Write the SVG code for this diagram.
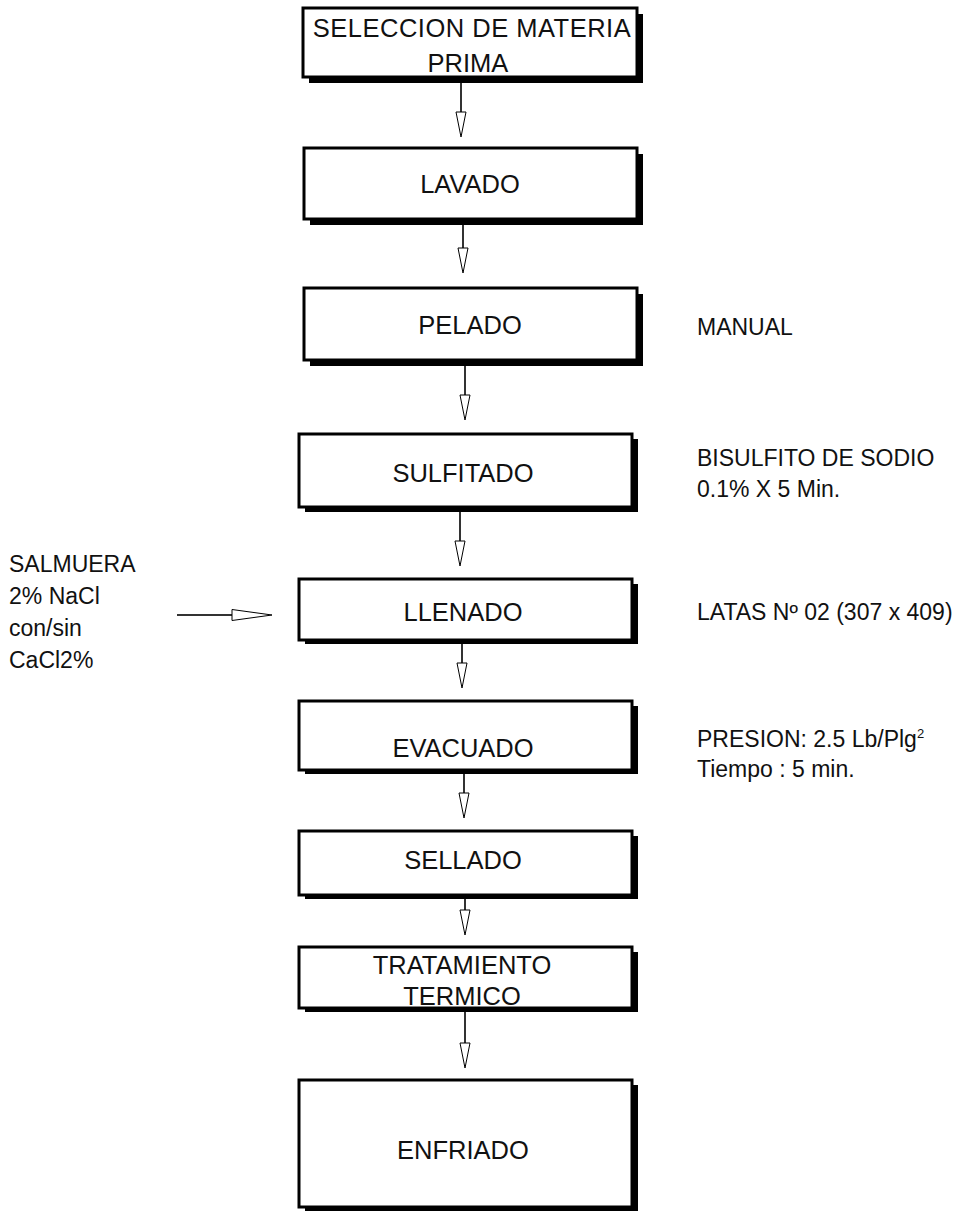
<svg xmlns="http://www.w3.org/2000/svg" width="977" height="1211" viewBox="0 0 977 1211">
<style>
.sh{fill:#000}
.bx{fill:#fff;stroke:#000;stroke-width:3}
.t{font-family:"Liberation Sans",Arial,sans-serif;font-size:25.5px;fill:#111;text-anchor:middle}
.s{font-family:"Liberation Sans",Arial,sans-serif;font-size:23px;fill:#111}
.ln{stroke:#333;stroke-width:2;fill:none}
.hd{fill:#fff;stroke:#000;stroke-width:1}
</style>
<rect width="977" height="1211" fill="#fff"/>
<g id="connectors">
<line class="ln" x1="461" y1="77" x2="461" y2="112"/><polygon class="hd" points="456,112 466,112 461,137"/>
<line class="ln" x1="463" y1="219" x2="463" y2="248"/><polygon class="hd" points="458,248 468,248 463,273"/>
<line class="ln" x1="465" y1="360" x2="465" y2="395"/><polygon class="hd" points="460,395 470,395 465,420"/>
<line class="ln" x1="460" y1="507" x2="460" y2="541"/><polygon class="hd" points="455,541 465,541 460,566"/>
<line class="ln" x1="462" y1="640" x2="462" y2="663"/><polygon class="hd" points="457,663 467,663 462,688"/>
<line class="ln" x1="464" y1="770" x2="464" y2="793"/><polygon class="hd" points="459,793 469,793 464,818"/>
<line class="ln" x1="465" y1="895" x2="465" y2="910"/><polygon class="hd" points="460,910 470,910 465,935"/>
<line class="ln" x1="465" y1="1008" x2="465" y2="1043"/><polygon class="hd" points="460,1043 470,1043 465,1068"/>
<line class="ln" x1="177" y1="615" x2="232" y2="615"/><polygon class="hd" points="232,609.5 232,620.5 272,615"/>
</g>
<g id="n1"><rect class="sh" x="309" y="14" width="334" height="69"/><rect class="bx" x="303" y="8" width="334" height="69"/>
<text class="t" x="472" y="37" letter-spacing="0.5">SELECCION DE MATERIA</text><text class="t" x="468" y="72">PRIMA</text></g>
<g id="n2"><rect class="sh" x="310" y="154" width="333" height="71"/><rect class="bx" x="304" y="148" width="333" height="71"/>
<text class="t" x="470" y="193">LAVADO</text></g>
<g id="n3"><rect class="sh" x="310" y="294" width="333" height="72"/><rect class="bx" x="304" y="288" width="333" height="72"/>
<text class="t" x="470" y="334">PELADO</text></g>
<g id="n4"><rect class="sh" x="305" y="439" width="333" height="73"/><rect class="bx" x="299" y="434" width="333" height="73"/>
<text class="t" x="463" y="482">SULFITADO</text></g>
<g id="n5"><rect class="sh" x="305" y="584" width="333" height="60"/><rect class="bx" x="299" y="579" width="333" height="61"/>
<text class="t" x="463" y="621">LLENADO</text></g>
<g id="n6"><rect class="sh" x="305" y="706" width="333" height="68"/><rect class="bx" x="299" y="701" width="333" height="69"/>
<text class="t" x="463" y="757">EVACUADO</text></g>
<g id="n7"><rect class="sh" x="305" y="836" width="333" height="63"/><rect class="bx" x="299" y="831" width="333" height="64"/>
<text class="t" x="463" y="869">SELLADO</text></g>
<g id="n8"><rect class="sh" x="305" y="952" width="333" height="60"/><rect class="bx" x="299" y="947" width="333" height="61"/>
<text class="t" x="462" y="974">TRATAMIENTO</text><text class="t" x="462" y="1005">TERMICO</text></g>
<g id="n9"><rect class="sh" x="305" y="1085" width="333" height="130"/><rect class="bx" x="299" y="1080" width="333" height="127"/>
<text class="t" x="463" y="1159">ENFRIADO</text></g>
<g id="notes">
<text class="s" x="697" y="335">MANUAL</text>
<text class="s" x="697" y="466">BISULFITO DE SODIO</text>
<text class="s" x="697" y="497">0.1% X 5 Min.</text>
<text class="s" x="697" y="620">LATAS Nº 02 (307 x 409)</text>
<text class="s" x="697" y="747">PRESION: 2.5 Lb/Plg<tspan font-size="13" dy="-9">2</tspan></text>
<text class="s" x="697" y="777">Tiempo : 5 min.</text>
<text class="s" x="9" y="572">SALMUERA</text>
<text class="s" x="9" y="604">2% NaCl</text>
<text class="s" x="9" y="636">con/sin</text>
<text class="s" x="9" y="668">CaCl2%</text>
</g>
</svg>
